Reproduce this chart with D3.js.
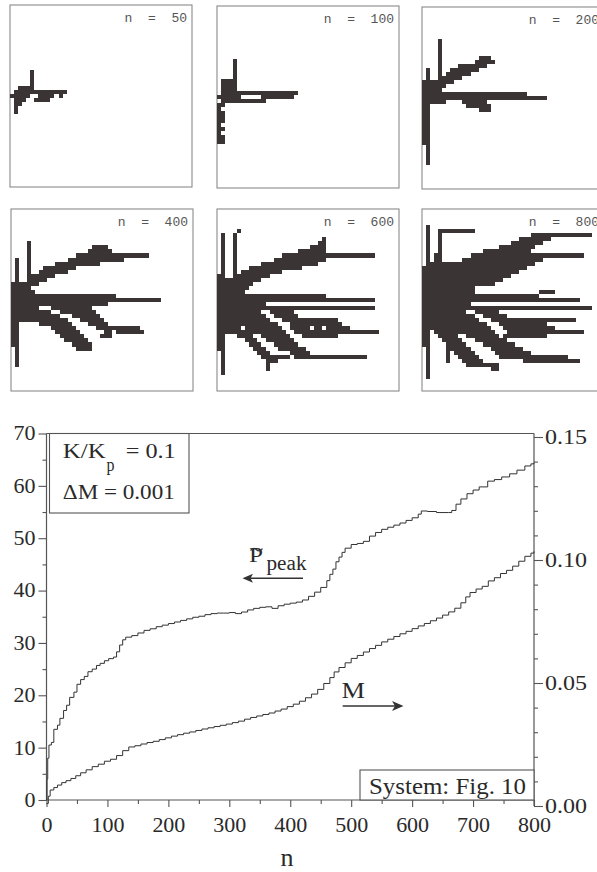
<!DOCTYPE html>
<html><head><meta charset="utf-8">
<script src="https://cdn.jsdelivr.net/npm/d3@7"></script>
<style>
html,body{margin:0;padding:0;background:#fff;}
svg{display:block;}
</style></head><body>
<svg id="c" width="597" height="872"></svg>
<script>
// ---------- DATA ----------
const panelLabels = ["n  =  50", "n  =  100", "n  =  200", "n  =  400", "n  =  600", "n  =  800"];
// occupied cells of each growth pattern: [rowFrom, rowTo, colFrom, colTo] (row 0 = seed row)
const cells50 = [[-6,-3,5,5],[-2,-2,2,5],[-1,-1,1,13],[0,0,0,4],[0,0,7,10],[0,0,12,12],[1,1,1,3],[1,1,6,9],[2,2,1,2],[3,4,1,1]];
const cells100 = [[-9,-2,4,4],[-4,-2,1,3],[-1,-1,1,19],[0,0,0,5],[0,0,11,18],[1,1,1,11],[2,11,0,0],[2,2,1,1],[4,6,1,1],[8,8,1,1],[10,11,1,1]];
const cells200 = [[-14,-2,4,4],[-10,-10,14,16],[-9,-9,13,17],[-8,-8,9,15],[-7,-7,7,13],[-6,-6,6,11],[-5,-5,5,9],[-4,-4,4,7],
  [-7,16,1,1],[-4,-2,0,3],[-3,-3,4,5],[-1,-1,0,25],[0,0,0,30],[1,1,0,5],[1,1,10,15],[2,11,0,1],[2,2,11,16],[3,3,14,16]];
const cells400 = [[-14,-2,4,4],[-10,16,1,1],[-4,3,0,3],
  [-2,-2,0,5],[-3,-3,0,4],[-4,-4,4,6],[-5,-5,5,8],[-6,-6,5,10],[-7,-7,7,13],[-8,-8,8,15],[-9,-9,11,21],[-10,-10,14,27],[-11,-11,16,33],[-12,-12,19,24],[-13,-13,20,23],
  [-1,-1,0,25],[0,0,0,36],[1,1,0,23],[2,2,0,6],[2,2,10,19],[3,3,0,9],[3,3,12,20],
  [4,4,0,11],[5,5,0,13],[6,6,7,14],[7,7,10,15],[8,8,11,16],[9,9,12,17],[10,10,13,18],[11,11,15,19],[12,12,16,19],
  [4,4,15,21],[5,5,17,22],[6,6,19,23],[7,7,21,31],[8,8,23,24],[8,8,26,32],[9,9,22,24],[4,11,0,0]];
const cells600 = [[-16,18,1,1],[-16,-4,4,4],[-17,-17,5,5],
  [-15,-15,26,26],[-14,-14,25,26],[-13,-13,23,26],[-12,-12,20,26],[-11,-11,16,38],[-10,-10,14,26],[-9,-9,11,24],[-8,-8,8,20],[-7,-7,6,15],
  [-6,-6,0,1],[-6,-6,5,12],[-5,-5,0,10],[-4,-4,0,8],[-3,-3,0,7],[-2,-2,0,6],
  [-1,-1,0,26],[0,0,0,38],[1,1,0,11],[2,2,0,38],[3,3,0,10],[3,3,13,18],[4,4,0,11],[4,4,14,19],[5,5,0,12],[5,5,16,29],
  [6,6,0,14],[6,6,18,30],[7,7,0,5],[7,7,7,15],[7,7,18,22],[7,7,24,25],[7,7,27,32],[8,8,0,16],[8,8,19,39],
  [9,12,0,1],[9,9,5,8],[9,9,11,17],[9,9,21,29],[10,10,7,9],[10,10,12,18],[11,11,8,10],[11,11,14,19],
  [12,12,9,11],[12,12,15,21],[13,13,10,12],[13,13,18,22],[14,14,11,17],[14,14,19,36],[15,15,12,14],[16,17,12,12]];
const cells800 = [[-18,19,1,1],[-16,-7,4,4],[-17,-17,4,12],[-11,0,3,3],[6,11,0,0],
  [-16,-16,27,41],[-15,-15,24,31],[-14,-14,22,29],[-13,-13,19,27],[-12,-12,15,26],[-11,-11,12,39],[-10,-10,10,29],
  [-9,-9,1,27],[-8,-8,0,25],[-7,-7,0,23],[-6,-6,0,21],[-5,-5,0,19],[-4,-4,0,17],[-3,-3,0,12],[-2,-2,0,12],[-2,-2,29,32],
  [-1,-1,0,28],[0,0,0,38],[1,1,0,11],[2,2,0,41],[3,3,0,10],[3,3,13,18],[4,4,0,12],[4,4,15,20],[5,5,0,13],[5,5,17,37],
  [6,6,1,15],[6,6,19,30],[7,7,2,16],[7,7,20,32],[8,8,3,17],[8,8,21,39],[9,9,4,8],[9,9,11,18],[9,9,20,30],
  [10,10,5,9],[10,10,13,20],[11,11,6,10],[11,11,15,22],[12,12,7,11],[12,12,17,24],[13,13,8,12],[13,13,18,26],
  [14,14,9,13],[14,14,19,35],[15,15,10,14],[15,15,25,38],[16,16,11,18],[17,17,17,18],[10,15,6,6]];

// main chart series: [n, value]
const pPeak = [[0,0],[1,4],[2,8],[4,10.5],[8,11],[12,13.5],[18,14.3],[22,15.6],[28,17.1],[33,18.1],[38,19.6],[45,20.6],[50,22.1],
  [56,23],[62,23.6],[68,24.5],[75,25],[82,25.7],[88,26.1],[95,26.6],[102,27],[110,27.3],[115,28.3],[120,29.6],[125,30.6],
  [130,31.1],[140,31.4],[150,31.9],[160,32.4],[170,32.7],[180,33.1],[190,33.4],[200,33.7],[210,34],[220,34.3],[230,34.6],
  [240,34.9],[250,35.1],[260,35.4],[270,35.6],[280,35.7],[290,35.7],[300,35.8],[310,35.6],[320,35.9],[330,36.3],[340,36.6],
  [350,36.8],[360,36.9],[370,36.6],[380,37.1],[390,37.4],[400,37.6],[410,37.8],[420,38.2],[430,38.9],[440,39.7],[450,40.6],
  [460,41.9],[465,43.1],[470,44.1],[475,45.5],[480,46.4],[485,47.3],[490,48.1],[500,48.8],[510,49],[520,49.4],[530,50.4],
  [540,51.1],[550,51.7],[560,52.1],[570,52.5],[580,52.9],[590,53.4],[600,53.9],[610,54.6],[615,55.2],[625,55.1],[640,54.9],
  [660,54.9],[665,55.3],[672,56.5],[680,57.5],[690,58.5],[700,59.2],[710,59.8],[724,60.9],[735,61.2],[747,61.7],[760,62.3],
  [772,63],[785,63.8],[795,64.2],[800,64.4]];
const mCurve = [[0,0.001],[3,0.004],[6,0.0065],[12,0.0075],[18,0.0085],[25,0.0095],[32,0.0103],[40,0.0112],[48,0.0123],[56,0.0135],
  [65,0.0147],[75,0.016],[85,0.017],[95,0.0182],[105,0.019],[115,0.0205],[125,0.0225],[135,0.024],[145,0.0245],[155,0.0252],
  [165,0.0258],[175,0.0263],[185,0.027],[195,0.0277],[205,0.0284],[215,0.029],[225,0.0296],[235,0.0301],[245,0.0307],[255,0.0313],
  [265,0.0318],[275,0.0323],[285,0.0328],[295,0.0333],[305,0.0339],[315,0.0345],[325,0.0353],[335,0.036],[345,0.0366],[355,0.0372],
  [365,0.0378],[375,0.0386],[385,0.0394],[395,0.0404],[405,0.0414],[415,0.0426],[425,0.044],[435,0.0455],[445,0.0474],[455,0.0498],
  [465,0.0522],[472,0.0545],[480,0.0563],[490,0.0582],[500,0.06],[510,0.0612],[520,0.0626],[530,0.064],[540,0.0653],[550,0.0667],
  [560,0.0678],[570,0.0689],[580,0.07],[590,0.071],[600,0.0721],[610,0.0732],[620,0.0742],[630,0.0753],[640,0.0764],[650,0.0776],
  [660,0.0789],[670,0.0804],[680,0.0826],[688,0.085],[695,0.0868],[705,0.0882],[715,0.0893],[725,0.0915],[735,0.0928],[745,0.0945],
  [755,0.0958],[765,0.0975],[775,0.0995],[785,0.1015],[795,0.1028],[800,0.1035]];

const xTicks = [0,100,200,300,400,500,600,700,800];
const xMinor = [50,150,250,350,450,550,650,750];
const leftTicks = [0,10,20,30,40,50,60,70];
const leftMinor = [5,15,25,35,45,55,65];
const rightTicks = [0,0.05,0.10,0.15];
const rightMinor = [0.01,0.02,0.03,0.04,0.06,0.07,0.08,0.09,0.11,0.12,0.13,0.14];
const legendLines = ["K/K", "p", "= 0.1", "\u0394M = 0.001"];
const systemLabel = "System: Fig. 10";

// ---------- FONT PICK ----------
function pickFont(list, generic) {
  const ctx = document.createElement('canvas').getContext('2d');
  const s = 'abcdefghijklmnopqrstuvwxyzKLMNOPQRS0123456789.=';
  ctx.font = '40px monospace'; const b1 = ctx.measureText(s).width;
  ctx.font = '40px sans-serif'; const b2 = ctx.measureText(s).width;
  for (const f of list) {
    ctx.font = `40px "${f}", monospace`; const w1 = ctx.measureText(s).width;
    ctx.font = `40px "${f}", sans-serif`; const w2 = ctx.measureText(s).width;
    if (Math.abs(w1 - b1) > 0.5 || Math.abs(w2 - b2) > 0.5) return `"${f}", ${generic}`;
  }
  return generic;
}
const serifCss = pickFont(['Liberation Serif','Times New Roman','Tinos','Noto Serif','DejaVu Serif'], 'serif');
const monoCss = pickFont(['Liberation Mono','Courier New','Cousine','DejaVu Sans Mono'], 'monospace');

// ---------- DRAW ----------
const svg = d3.select('#c');
const ink = '#3b3434';
const axisInk = '#555';

// pattern panels
const panels = [
  {label: panelLabels[0], cells: cells50,  x: 10,  y: 5},
  {label: panelLabels[1], cells: cells100, x: 217, y: 6},
  {label: panelLabels[2], cells: cells200, x: 422, y: 7},
  {label: panelLabels[3], cells: cells400, x: 11,  y: 209},
  {label: panelLabels[4], cells: cells600, x: 217, y: 209},
  {label: panelLabels[5], cells: cells800, x: 422, y: 209}
];
const pSize = 182;
const gx = d3.scaleLinear().domain([0,45]).range([0,pSize]);
const gy = d3.scaleLinear().domain([-22.5,22.5]).range([0,pSize]);

panels.forEach(p => {
  const g = svg.append('g').attr('transform', `translate(${p.x},${p.y})`);
  g.append('rect').attr('x',0).attr('y',0).attr('width',pSize).attr('height',pSize)
    .attr('fill','none').attr('stroke','#8a8a8a').attr('stroke-width',1.1);
  g.selectAll('rect.cell').data(p.cells).join('rect').attr('class','cell')
    .attr('x', d => gx(d[2]))
    .attr('y', d => gy(d[0]-0.5))
    .attr('width', d => gx(d[3]+1) - gx(d[2]))
    .attr('height', d => gy(d[1]+0.5) - gy(d[0]-0.5))
    .attr('fill', ink).attr('shape-rendering','crispEdges');
  g.append('text').attr('x', pSize-5).attr('y', 17).attr('text-anchor','end')
    .style('white-space','pre').attr('xml:space','preserve')
    .style('font-family', monoCss).style('font-size','13px')
    .attr('fill','#555').text(p.label);
});

// main chart scales
const x = d3.scaleLinear().domain([0,800]).range([46.5,534]);
const yL = d3.scaleLinear().domain([0,70]).range([800,433.5]);
const yR = d3.scaleLinear().domain([0,0.15]).range([806,437]);

function styleAxis(g, sx) {
  g.attr('font-family', null).attr('font-size', null);
  g.select('.domain').remove();
  g.selectAll('line').attr('stroke', axisInk).attr('stroke-width',1.1);
  g.selectAll('text').style('font-family', serifCss).style('font-size','20px').attr('fill','#2a2a2a')
    .each(function(){
      const t = d3.select(this);
      const tx = +t.attr('x') || 0;
      t.attr('x',0).attr('transform',`translate(${tx},0) scale(${sx},1)`);
    });
}

// left axis
const gL = svg.append('g').attr('transform','translate(46.5,0)')
  .call(d3.axisLeft(yL).tickValues(leftTicks).tickSize(8).tickPadding(3).tickFormat(d3.format('d')));
styleAxis(gL, 1.1);
const gLm = svg.append('g').attr('transform','translate(46.5,0)')
  .call(d3.axisLeft(yL).tickValues(leftMinor).tickSize(4).tickFormat(''));
styleAxis(gLm, 1);

// bottom axis
const gB = svg.append('g').attr('transform','translate(0,800)')
  .call(d3.axisBottom(x).tickValues(xTicks).tickSize(7).tickPadding(11).tickFormat(d3.format('d')));
styleAxis(gB, 1.1);
const gBm = svg.append('g').attr('transform','translate(0,800)')
  .call(d3.axisBottom(x).tickValues(xMinor).tickSize(4).tickFormat(''));
styleAxis(gBm, 1);

// right axis
const gR = svg.append('g').attr('transform','translate(534,0)')
  .call(d3.axisRight(yR).tickValues(rightTicks).tickSize(9).tickPadding(2).tickFormat(d3.format('.2f')));
styleAxis(gR, 1.2);
const gRm = svg.append('g').attr('transform','translate(534,0)')
  .call(d3.axisRight(yR).tickValues(rightMinor).tickSize(4).tickFormat(''));
styleAxis(gRm, 1);

// frame
svg.append('path')
  .attr('d', `M46.5,433.5H534 M46.5,433.5V800H534 M534,433.5V${yR(0)}`)
  .attr('fill','none').attr('stroke',axisInk).attr('stroke-width',1.2);

// curves
const lineP = d3.line().x(d => x(d[0])).y(d => yL(d[1])).curve(d3.curveStepAfter);
const lineM = d3.line().x(d => x(d[0])).y(d => yR(d[1])).curve(d3.curveStepAfter);
svg.append('path').datum(pPeak).attr('d', lineP).attr('fill','none').attr('stroke','#333').attr('stroke-width',1);
svg.append('path').datum(mCurve).attr('d', lineM).attr('fill','none').attr('stroke','#333').attr('stroke-width',1);

// text helper
function label(xp, yp, str, size, width) {
  const t = svg.append('text').attr('x',xp).attr('y',yp)
    .style('font-family', serifCss).style('font-size', size + 'px').attr('fill','#2a2a2a').text(str);
  if (width) t.attr('textLength',width).attr('lengthAdjust','spacingAndGlyphs');
  return t;
}

// legend box (top-left)
svg.append('rect').attr('x',49.5).attr('y',433.5).attr('width',139.5).attr('height',79.5)
  .attr('fill','#fff').attr('stroke',axisInk).attr('stroke-width',1.1);
label(62.8, 458, legendLines[0], 21, 43);
label(106.5, 470.5, legendLines[1], 18, 8);
label(125.7, 458, legendLines[2], 21, 50);
label(62.8, 499, legendLines[3], 21, 112);

// system box
svg.append('rect').attr('x',360).attr('y',770).attr('width',174).attr('height',30)
  .attr('fill','#fff').attr('stroke',axisInk).attr('stroke-width',1.1);
label(369, 793.5, systemLabel, 23, 157);

// P peak label + arrow
label(249, 562, 'P', 22, 14);
svg.append('path').attr('d','M250.5,550.5 q3,-3.5 6,-0.8 t6,-1').attr('fill','none').attr('stroke','#333').attr('stroke-width',1.3);
label(266.5, 569.5, 'peak', 20, 40);
svg.append('line').attr('x1',246).attr('x2',303).attr('y1',578.3).attr('y2',578.3).attr('stroke','#333').attr('stroke-width',1.6);
svg.append('path').attr('d','M242.5,578.3 L253,573.8 L250.5,578.3 L253,582.8 Z').attr('fill','#333');

// M label + arrow
label(341.6, 698, 'M', 23, 23.5);
svg.append('line').attr('x1',342.7).attr('x2',399).attr('y1',706).attr('y2',706).attr('stroke','#333').attr('stroke-width',1.6);
svg.append('path').attr('d','M403.5,706 L392,701 L395,706 L392,711 Z').attr('fill','#333');

// x label
label(287, 866, 'n', 26).attr('text-anchor','middle');
</script>
</body></html>
